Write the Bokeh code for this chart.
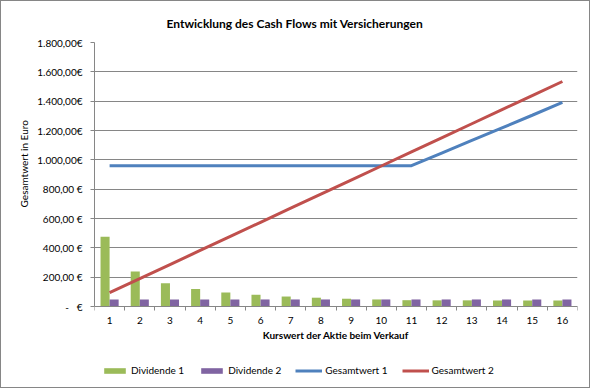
from bokeh.plotting import figure
from bokeh.models import (Range1d, FixedTicker, Legend, LegendItem,
                          ColumnDataSource)
from bokeh.transform import dodge
from bokeh.embed import file_html
from bokeh.resources import INLINE

# ---- data ----
kurs = list(range(1, 17))
kurs_labels = [str(k) for k in kurs]
dividende1 = [476, 239, 159, 119, 95, 80, 68, 60, 53, 48, 43, 42, 42, 41, 41, 41]
dividende2 = [48] * 16
gesamtwert1 = [960, 960, 960, 960, 960, 960, 960, 960, 960, 960, 960,
               1046, 1132, 1218, 1304, 1391]
gesamtwert2 = [94, 190, 286, 382, 478, 574, 670, 766, 862, 958, 1054,
               1150, 1246, 1342, 1438, 1534]
y_ticks = [0, 200, 400, 600, 800, 1000, 1200, 1400, 1600, 1800]
y_tick_labels = ["-\u00a0\u00a0\u00a0€", "200,00 €", "400,00 €", "600,00 €",
                 "800,00 €", "1.000,00€", "1.200,00€", "1.400,00€",
                 "1.600,00€", "1.800,00€"]

title_text = "Entwicklung des Cash Flows mit Versicherungen"
x_title = "Kurswert der Aktie beim Verkauf"
y_title = "Gesamtwert in Euro"
series_names = ["Dividende 1", "Dividende 2", "Gesamtwert 1", "Gesamtwert 2"]

GREEN = "#9BBB59"
PURPLE = "#8064A2"
BLUE = "#4F81BD"
RED = "#C0504D"
GRID = "#868686"
FONT = "Lato"

# layout: plot area 264px tall for 0..1800, frame extends below to hold
# axis labels and legend (axis drawn at y=0)
FRAME_H = 345
PLOT_H = 264
Y_MAX = 1800
y_min = Y_MAX - FRAME_H * Y_MAX / PLOT_H

src = ColumnDataSource(dict(x=kurs, d1=dividende1, d2=dividende2,
                            g1=gesamtwert1, g2=gesamtwert2))

p = figure(frame_width=483, frame_height=FRAME_H, output_backend="svg",
           toolbar_location=None,
           x_range=Range1d(0.5, 16.5), y_range=Range1d(y_min, Y_MAX),
           min_border_left=93, min_border_right=12, min_border_top=41,
           min_border_bottom=0, styles={"border": "1px solid #868686"})
p.outline_line_color = None
p.background_fill_color = "white"
p.border_fill_color = "white"

# title
p.title.text = title_text
p.title.align = "left"
p.title.offset = 72
p.title.vertical_align = "bottom"
p.title.standoff = 24
p.title.text_font = FONT
p.title.text_font_size = "12px"
p.title.text_font_style = "bold"
p.title.text_color = "black"

r1 = p.vbar(x=dodge("x", -0.15, range=p.x_range), top="d1", width=0.3,
            source=src, fill_color=GREEN, line_color=None)
r2 = p.vbar(x=dodge("x", 0.15, range=p.x_range), top="d2", width=0.3,
            source=src, fill_color=PURPLE, line_color=None)
r3 = p.line(x="x", y="g1", source=src, line_color=BLUE, line_width=3)
r4 = p.line(x="x", y="g2", source=src, line_color=RED, line_width=3)

# x axis (drawn at y = 0)
xa = p.xaxis[0]
xa.fixed_location = 0
xa.ticker = FixedTicker(ticks=kurs, minor_ticks=[k - 0.5 for k in kurs] + [16.5])
xa.major_label_overrides = {k: s for k, s in zip(kurs, kurs_labels)}
xa.major_tick_out = 0
xa.major_tick_in = 0
xa.minor_tick_out = 4
xa.minor_tick_in = 0
xa.minor_tick_line_color = GRID
xa.axis_line_color = GRID
xa.major_label_text_font = FONT
xa.major_label_text_font_size = "10px"
xa.major_label_text_color = "black"
xa.major_label_standoff = 6
xa.axis_label = x_title
xa.axis_label_text_font = FONT
xa.axis_label_text_font_size = "10px"
xa.axis_label_text_font_style = "bold"
xa.axis_label_text_color = "black"
xa.axis_label_standoff = 2

# y axis
ya = p.yaxis[0]
ya.bounds = (0, Y_MAX)
ya.ticker = FixedTicker(ticks=y_ticks)
ya.major_label_overrides = {t: s for t, s in zip(y_ticks, y_tick_labels)}
ya.major_tick_out = 4
ya.major_tick_in = 0
ya.major_tick_line_color = GRID
ya.minor_tick_line_color = None
ya.axis_line_color = GRID
ya.major_label_text_font = FONT
ya.major_label_text_font_size = "10px"
ya.major_label_text_color = "black"
ya.major_label_standoff = 8
# leading non-breaking spaces centre the visible label on the 0..1800 span
ya.axis_label = "\u00a0" * 40 + y_title
ya.axis_label_text_font = FONT
ya.axis_label_text_font_size = "10px"
ya.axis_label_text_font_style = "normal"
ya.axis_label_text_color = "black"
ya.axis_label_standoff = 4

p.xgrid.grid_line_color = None
p.ygrid.grid_line_color = GRID
p.ygrid.ticker = FixedTicker(ticks=y_ticks)

legend = Legend(items=[LegendItem(label=n, renderers=[r]) for n, r in
                       zip(series_names, [r1, r2, r3, r4])],
                orientation="horizontal", location=(7, 11),
                glyph_width=27, glyph_height=7, label_height=12,
                label_standoff=3, spacing=14, padding=0, margin=0,
                border_line_color=None, background_fill_alpha=0,
                label_text_font=FONT, label_text_font_size="10px",
                label_text_color="black")
p.add_layout(legend, "center")

open("out.html", "w").write(file_html(p, INLINE))
